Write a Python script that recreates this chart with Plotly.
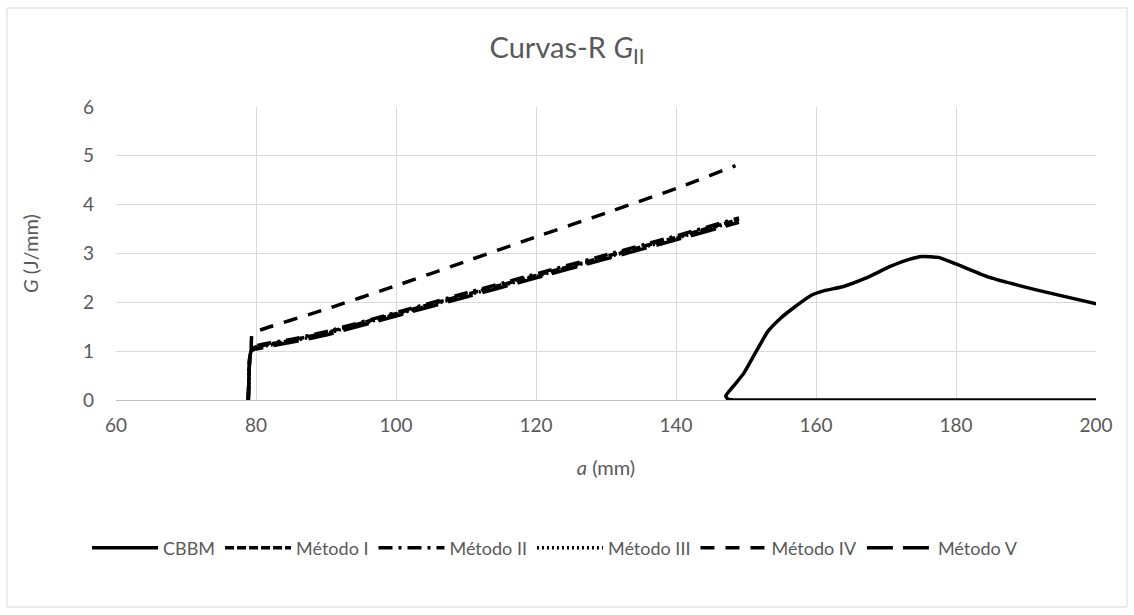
import plotly.graph_objects as go

# Crack length a (mm) and strain energy release rate G (J/mm) per method
cbbm_a = [200.0, 170.0, 150.0, 148.2, 147.4, 147.1, 148.3, 149.7, 151.4, 153.1, 154.9, 157.0,
          159.4, 161.2, 163.8, 167.0, 170.7, 173.3, 175.1, 177.5, 180.1, 184.8, 191.6, 200.3]
cbbm_g = [0.0, 0.0, 0.0, 0.0, 0.02, 0.08, 0.30, 0.55, 0.98, 1.40, 1.67, 1.91,
          2.15, 2.24, 2.32, 2.49, 2.74, 2.88, 2.94, 2.92, 2.78, 2.51, 2.25, 1.96]

m1_a = [78.9, 79.0, 79.1, 79.3, 79.8, 85, 90, 100, 110, 120, 130, 140, 149.0]
m1_g = [0.0, 0.5, 0.85, 1.0, 1.08, 1.22, 1.38, 1.77, 2.16, 2.55, 2.94, 3.33, 3.70]

m2_a = [78.9, 79.0, 79.1, 79.3, 79.8, 85, 90, 100, 110, 120, 130, 140, 149.0]
m2_g = [0.0, 0.5, 0.85, 1.0, 1.10, 1.24, 1.40, 1.79, 2.19, 2.58, 2.97, 3.36, 3.73]

m3_a = [78.9, 79.0, 79.1, 79.3, 79.8, 85, 90, 100, 110, 120, 130, 140, 149.0]
m3_g = [0.0, 0.5, 0.85, 1.0, 1.06, 1.20, 1.36, 1.75, 2.14, 2.53, 2.92, 3.31, 3.68]

m4_a = [78.9, 79.0, 79.1, 79.3, 79.4, 80, 90, 100, 110, 120, 130, 140, 148.5]
m4_g = [0.0, 0.5, 0.85, 1.0, 1.33, 1.40, 1.86, 2.34, 2.84, 3.34, 3.83, 4.33, 4.80]

m5_a = [78.9, 79.0, 79.1, 79.3, 79.8, 85, 90, 100, 110, 120, 130, 140, 149.0]
m5_g = [0.0, 0.5, 0.85, 1.0, 1.04, 1.18, 1.33, 1.72, 2.11, 2.50, 2.89, 3.28, 3.64]

x_ticks = [60, 80, 100, 120, 140, 160, 180, 200]
y_ticks = [0, 1, 2, 3, 4, 5, 6]

FONT = "Lato"
GRAY = "#595959"
GRID = "#d9d9d9"

series = [
    ("CBBM", cbbm_a, cbbm_g, "solid"),
    ("Método I", m1_a, m1_g, "9px,3px"),
    ("Método II", m2_a, m2_g, "14px,6px,3px,6px"),
    ("Método III", m3_a, m3_g, "2px,3px"),
    ("Método IV", m4_a, m4_g, "14px,11px"),
    ("Método V", m5_a, m5_g, "26px,10px"),
]

fig = go.Figure()
for name, xs, ys, dash in series:
    fig.add_trace(go.Scatter(
        x=xs, y=ys, name=name, mode="lines",
        line=dict(color="black", width=3.5, dash=dash, shape="spline", smoothing=0.4),
    ))

W, H = 1134, 615
L, R, T, B = 116, 38, 107, 215
pw, ph = W - L - R, H - T - B

def px_x(p):
    return (p - L) / pw

def px_y(p):
    return (H - B - p) / ph

fig.update_layout(
    width=W, height=H,
    margin=dict(l=L, r=R, t=T, b=B),
    paper_bgcolor="white", plot_bgcolor="white",
    font=dict(family=FONT, color=GRAY, size=18),
    title=dict(text="Curvas-R <i>G</i><sub>II</sub>", x=0.5, xanchor="center",
               y=1 - 48 / H, yanchor="middle",
               font=dict(family=FONT, size=29, color=GRAY)),
    xaxis=dict(range=[60, 200], tickvals=x_ticks, ticktext=[str(v) for v in x_ticks],
               showgrid=True, gridcolor=GRID, gridwidth=1,
               showline=True, linecolor="#bfbfbf", linewidth=1,
               zeroline=False, ticks="", tickfont=dict(size=19, color=GRAY),
               ticklabelstandoff=8,
               title=dict(text="<i>a</i> (mm)", font=dict(size=20, color=GRAY), standoff=26)),
    yaxis=dict(range=[0, 6], tickvals=y_ticks, ticktext=[str(v) for v in y_ticks],
               showgrid=True, gridcolor=GRID, gridwidth=1,
               zeroline=False, ticks="", tickfont=dict(size=19, color=GRAY),
               ticklabelstandoff=21,
               title=dict(text="<i>G</i> (J/mm)", font=dict(size=20, color=GRAY), standoff=38)),
    legend=dict(orientation="h", x=0.448, xanchor="center", y=px_y(548), yanchor="middle",
                font=dict(size=18, color=GRAY), bgcolor="rgba(0,0,0,0)",
                itemwidth=66, tracegroupgap=0),
    showlegend=True,
)

# Chart area border
fig.add_shape(type="rect", xref="paper", yref="paper",
              x0=px_x(7), x1=px_x(1127), y0=px_y(607), y1=px_y(8),
              line=dict(color=GRID, width=1), fillcolor="rgba(0,0,0,0)", layer="below")

fig.write_html("out.html")
